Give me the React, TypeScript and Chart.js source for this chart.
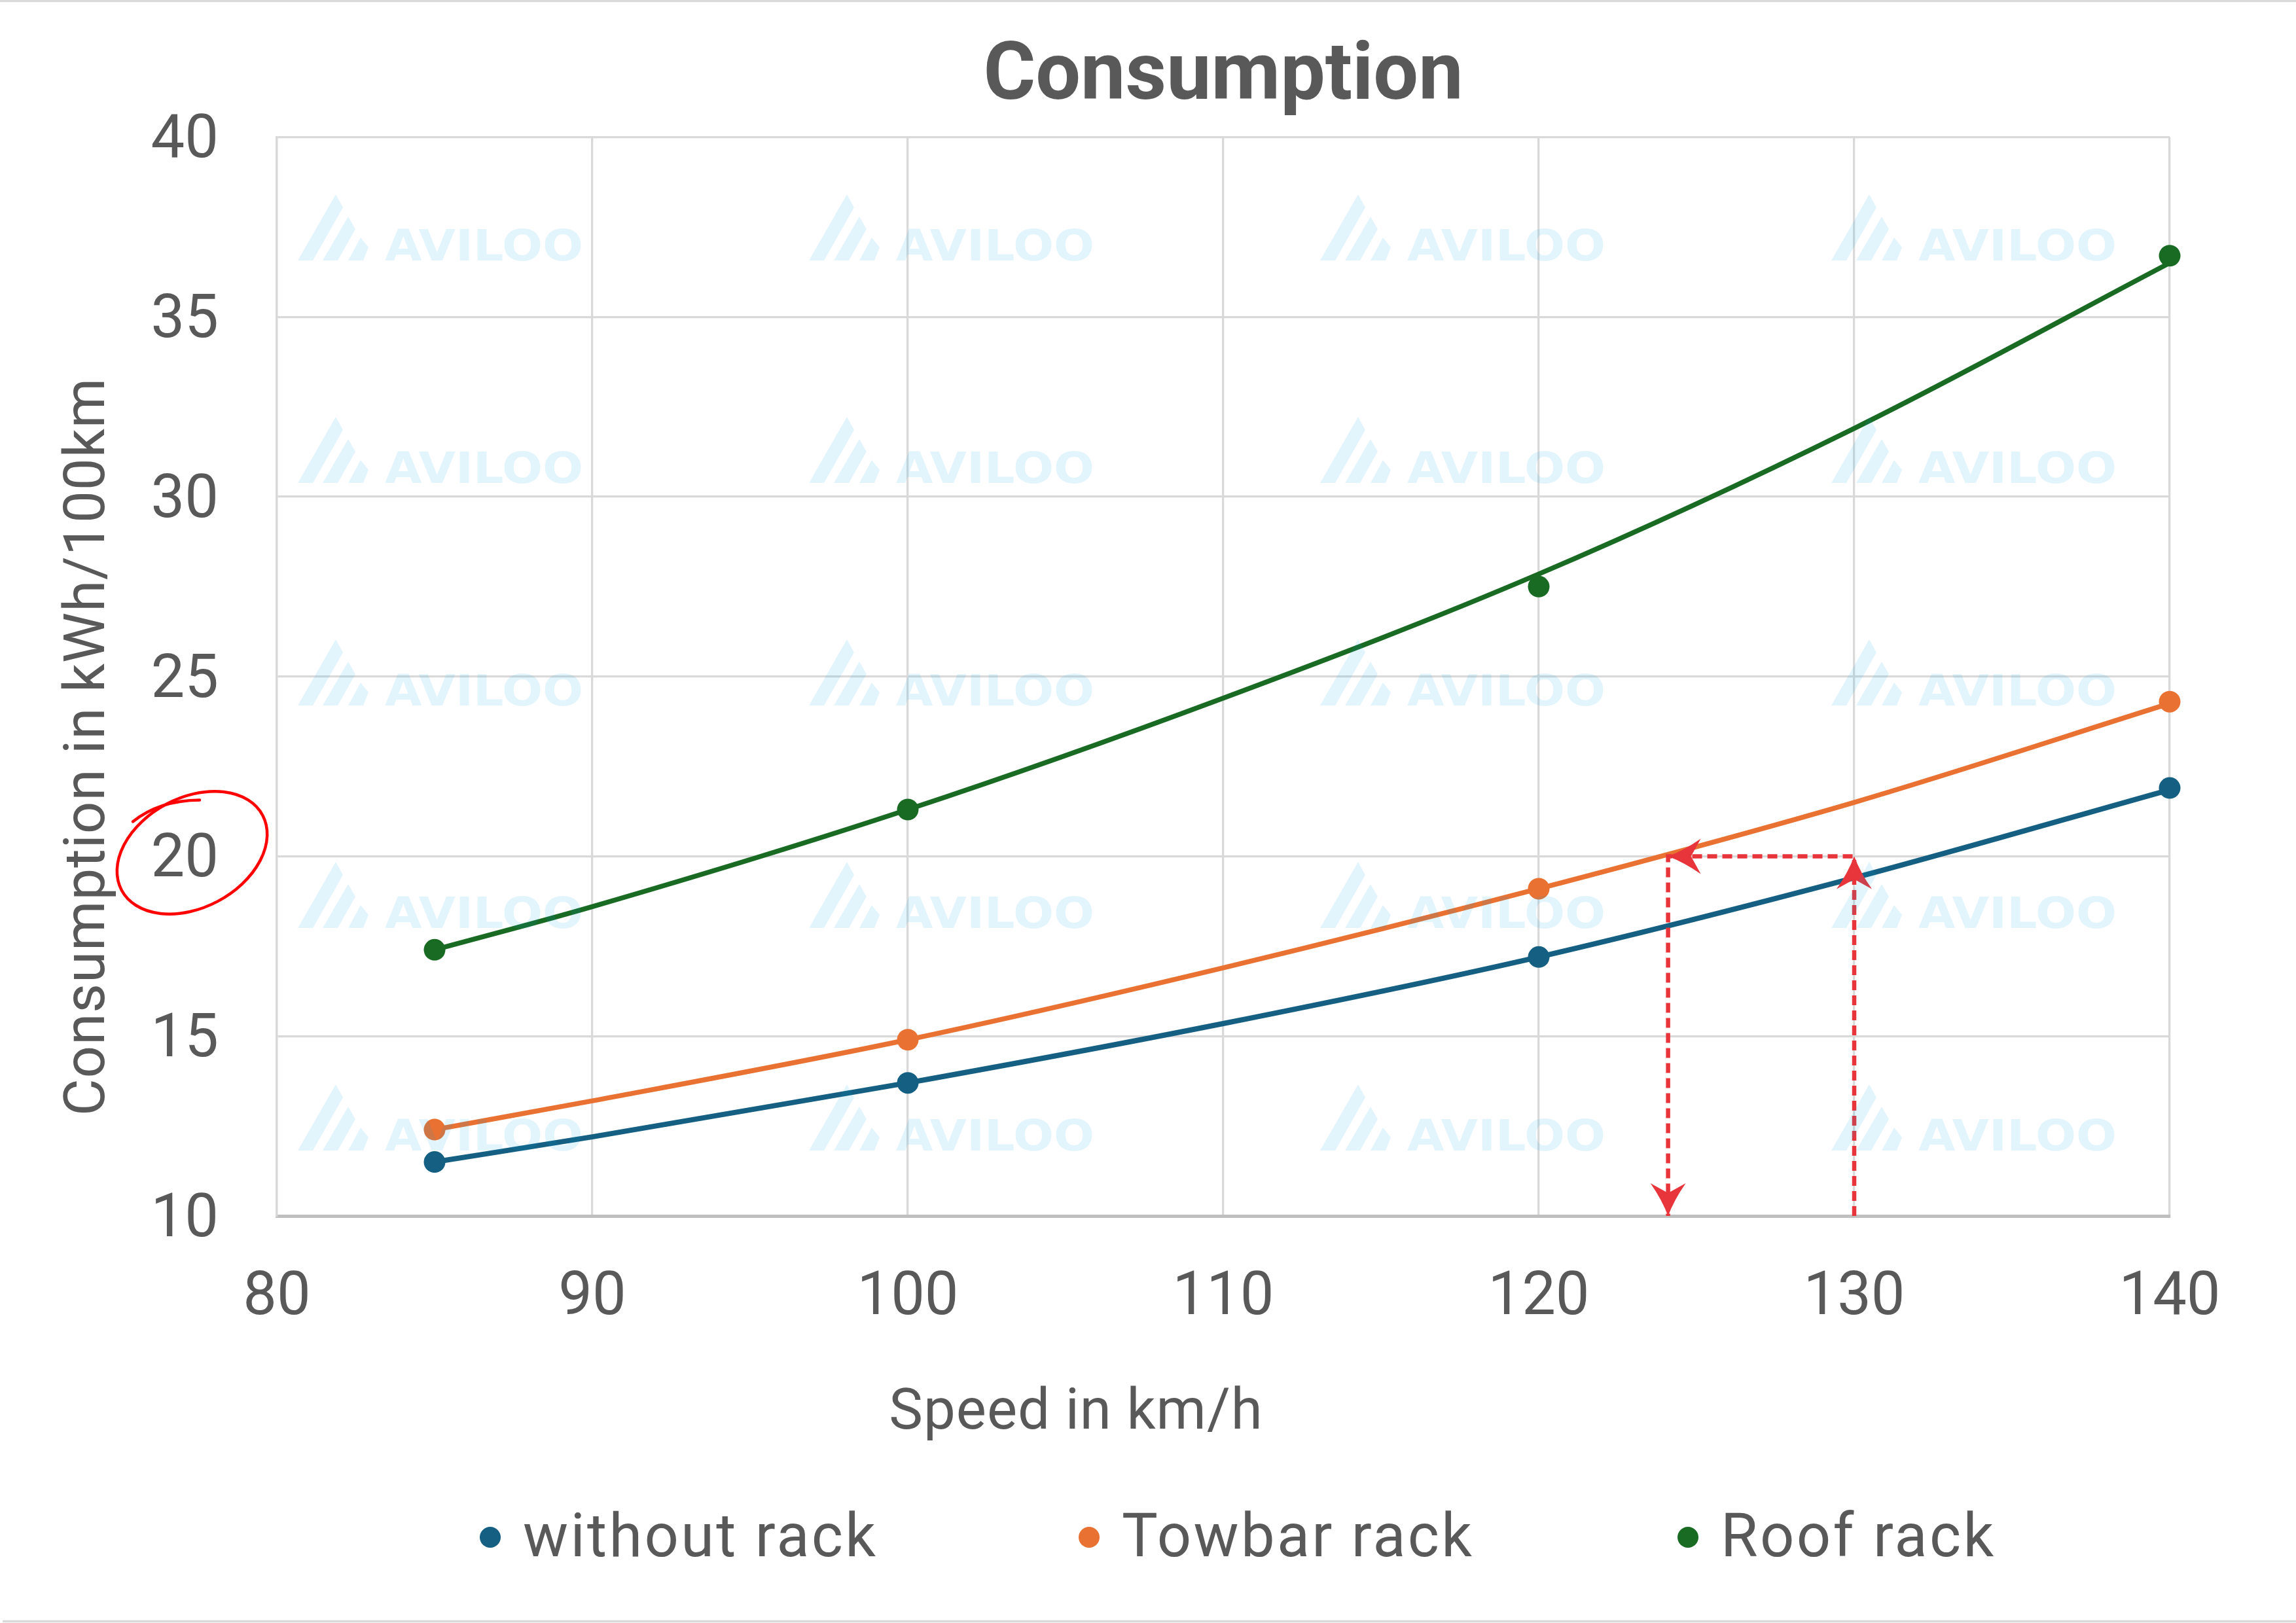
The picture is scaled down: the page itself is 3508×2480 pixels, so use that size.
import React, { useEffect, useRef } from "react";
import { Chart, registerables } from "chart.js";

Chart.register(...registerables);

// ---------- data ----------
const SPEEDS = [85, 100, 120, 140];
const WITHOUT_RACK = [11.5, 13.7, 17.2, 21.9];
const TOWBAR_RACK = [12.4, 14.9, 19.1, 24.3];
const ROOF_RACK = [17.4, 21.3, 27.5, 36.7];

// trendline curves
const TREND_SPEEDS = [85, 90, 100, 110, 120, 130, 140];
const WITHOUT_TREND = [11.5, 12.2, 13.7, 15.35, 17.2, 19.4, 21.85];
const TOWBAR_TREND = [12.4, 13.2, 14.9, 16.9, 19.1, 21.5, 24.25];
const ROOF_TREND = [17.4, 18.6, 21.3, 24.4, 27.85, 31.9, 36.5];

const SERIES_NAMES = ["without rack", "Towbar rack", "Roof rack"];
const SERIES_COLORS = ["#156082", "#E97132", "#196B24"];

const X_TICKS = [80, 90, 100, 110, 120, 130, 140];
const Y_TICKS = [10, 15, 20, 25, 30, 35, 40];

// red dashed guide: from 130 km/h up to 20 kWh, left to towbar curve, down to axis
const GUIDE_X = [130, 130, 124.1, 124.1];
const GUIDE_Y = [10, 20, 20, 10];
const CIRCLED_TICK = 20;

const TITLE = "Consumption";
const X_TITLE = "Speed in km/h";
const Y_TITLE = "Consumption in kWh/100km";
const WATERMARK = "AVILOO";

// ---------- styles ----------
const TEXT = "#595959";
const GRID = "#D9D9D9";
const AXIS = "#BFBFBF";
const RED = "#E8353B";
const FONT = "Roboto, 'Liberation Sans', sans-serif";

Chart.defaults.font.family = FONT;

const pts = (xs: number[], ys: number[]) => xs.map((x, i) => ({ x, y: ys[i] }));

const framePlugin = {
  id: "frame",
  beforeDraw(chart: any) {
    const ctx = chart.ctx;
    ctx.save();
    ctx.fillStyle = "#ffffff";
    ctx.fillRect(0, 0, chart.width, chart.height);
    ctx.strokeStyle = GRID;
    ctx.lineWidth = 3.5;
    ctx.beginPath();
    ctx.moveTo(0, 1.5);
    ctx.lineTo(chart.width, 1.5);
    ctx.moveTo(4, chart.height - 2.5);
    ctx.lineTo(chart.width, chart.height - 2.5);
    ctx.stroke();
    ctx.restore();
  },
};

const arrowPlugin = {
  id: "guideArrows",
  afterDatasetsDraw(chart: any) {
    const xs = chart.scales.x;
    const ys = chart.scales.y;
    const p = GUIDE_X.map((v, i) => ({ x: xs.getPixelForValue(v), y: ys.getPixelForValue(GUIDE_Y[i]) }));
    const ctx = chart.ctx;
    ctx.save();
    ctx.fillStyle = RED;
    for (let i = 1; i < p.length; i++) {
      const a = p[i - 1];
      const b = p[i];
      const dx = b.x - a.x;
      const dy = b.y - a.y;
      const len = Math.hypot(dx, dy) || 1;
      const ux = dx / len;
      const uy = dy / len;
      const px = -uy;
      const py = ux;
      const L = 50;
      const W = 27;
      const N = 15;
      ctx.beginPath();
      ctx.moveTo(b.x, b.y);
      ctx.quadraticCurveTo(b.x - ux * L * 0.5 + px * W * 0.35, b.y - uy * L * 0.5 + py * W * 0.35, b.x - ux * L + px * W, b.y - uy * L + py * W);
      ctx.lineTo(b.x - ux * (L - N), b.y - uy * (L - N));
      ctx.lineTo(b.x - ux * L - px * W, b.y - uy * L - py * W);
      ctx.quadraticCurveTo(b.x - ux * L * 0.5 - px * W * 0.35, b.y - uy * L * 0.5 - py * W * 0.35, b.x, b.y);
      ctx.closePath();
      ctx.fill();
    }
    ctx.restore();
  },
};

const textPlugin = {
  id: "texts",
  afterDraw(chart: any) {
    const ctx = chart.ctx;
    const ys = chart.scales.y;
    ctx.save();
    ctx.fillStyle = TEXT;
    ctx.textBaseline = "alphabetic";

    // x axis title
    ctx.font = `87px ${FONT}`;
    ctx.textAlign = "center";
    (ctx as any).letterSpacing = "1px";
    ctx.fillText(X_TITLE, 1644, 2183);

    // y axis title
    ctx.save();
    ctx.translate(159, 1141);
    ctx.rotate(-Math.PI / 2);
    ctx.fillText(Y_TITLE, 0, 0);
    ctx.restore();

    // legend
    ctx.font = `92px ${FONT}`;
    ctx.textAlign = "left";
    (ctx as any).letterSpacing = "3.3px";
    SERIES_NAMES.forEach((name, i) => {
      const cx = 749 + i * 915;
      ctx.fillStyle = SERIES_COLORS[i];
      ctx.beginPath();
      ctx.arc(cx, 2349, 16, 0, Math.PI * 2);
      ctx.fill();
      ctx.fillStyle = TEXT;
      ctx.fillText(name, cx + 50, 2378);
    });
    (ctx as any).letterSpacing = "0px";

    // hand-drawn red circle around the 20 tick label
    const cx = 293.5;
    const cy = ys.getPixelForValue(CIRCLED_TICK) - 5.5;
    ctx.strokeStyle = "#FF0000";
    ctx.lineWidth = 4.5;
    ctx.lineCap = "round";
    ctx.beginPath();
    ctx.ellipse(cx, cy, 122, 84, (-28 * Math.PI) / 180, 0, Math.PI * 2);
    ctx.stroke();
    ctx.beginPath();
    ctx.moveTo(cx + 11.5, cy - 80.5);
    ctx.quadraticCurveTo(cx - 50, cy - 80, cx - 90.5, cy - 47.5);
    ctx.stroke();
    ctx.restore();
  },
};

const watermarkPlugin = {
  id: "watermark",
  afterDraw(chart: any) {
    const ctx = chart.ctx;
    const shapes = [
      [[0, 0], [58, -101], [69, -81], [23, 0]],
      [[38, 0], [77, -67], [88, -48], [61, 0]],
      [[77, 0], [96, -35], [108, -20], [100, 0]],
    ];
    ctx.save();
    ctx.fillStyle = "rgba(0,160,230,0.115)";
    ctx.font = `bold 66px 'DejaVu Sans', ${FONT}`;
    ctx.textAlign = "left";
    ctx.textBaseline = "alphabetic";
    const w = ctx.measureText(WATERMARK).width;
    const sx = 303 / w;
    for (let c = 0; c < 4; c++) {
      for (let r = 0; r < 5; r++) {
        const L = 455 + c * 781;
        const B = 398 + r * 340;
        shapes.forEach((s) => {
          ctx.beginPath();
          s.forEach(([dx, dy], k) => (k === 0 ? ctx.moveTo(L + dx, B + dy) : ctx.lineTo(L + dx, B + dy)));
          ctx.closePath();
          ctx.fill();
        });
        ctx.save();
        ctx.translate(L + 133, B);
        ctx.scale(sx, 1);
        ctx.fillText(WATERMARK, 0, 0);
        ctx.restore();
      }
    }
    ctx.restore();
  },
};

export default function App() {
  const ref = useRef<HTMLCanvasElement>(null);
  useEffect(() => {
    document.body.style.margin = "0";
    const canvas = ref.current;
    if (!canvas) return;
    const trends = [WITHOUT_TREND, TOWBAR_TREND, ROOF_TREND];
    const marks = [WITHOUT_RACK, TOWBAR_RACK, ROOF_RACK];
    const datasets: any[] = [
      {
        label: "guide",
        data: pts(GUIDE_X, GUIDE_Y),
        borderColor: RED,
        borderWidth: 6.5,
        borderDash: [15, 8],
        pointRadius: 0,
        tension: 0,
        order: 0,
        clip: false,
      },
    ];
    SERIES_NAMES.forEach((name, i) => {
      datasets.push({
        label: name,
        data: pts(SPEEDS, marks[i]),
        showLine: false,
        pointRadius: 16.5,
        pointBackgroundColor: SERIES_COLORS[i],
        pointBorderWidth: 0,
        borderColor: SERIES_COLORS[i],
        order: 1,
        clip: false,
      });
    });
    SERIES_NAMES.forEach((name, i) => {
      datasets.push({
        label: name + " trend",
        data: pts(TREND_SPEEDS, trends[i]),
        borderColor: SERIES_COLORS[i],
        borderWidth: i === 0 ? 8 : 7.5,
        pointRadius: 0,
        cubicInterpolationMode: "monotone",
        order: 2,
        clip: false,
      });
    });

    const chart = new Chart(canvas, {
      type: "line",
      data: { datasets },
      options: {
        responsive: false,
        maintainAspectRatio: false,
        devicePixelRatio: 1,
        animation: false,
        events: [],
        layout: { padding: { left: 0, right: 193, top: 0, bottom: 0 } },
        plugins: {
          legend: { display: false },
          tooltip: { enabled: false },
          title: {
            display: true,
            text: TITLE,
            color: TEXT,
            fullSize: false,
            font: { family: FONT, size: 122, weight: "bold", lineHeight: 1.2 },
            padding: { top: 47, bottom: 16 },
          },
        },
        scales: {
          x: {
            type: "linear",
            min: X_TICKS[0],
            max: X_TICKS[X_TICKS.length - 1],
            afterBuildTicks: (s: any) => {
              s.ticks = X_TICKS.map((value) => ({ value }));
            },
            afterFit: (s: any) => {
              s.height = 622;
            },
            grid: { color: GRID, lineWidth: 3.3, drawTicks: false },
            border: { display: true, color: AXIS, width: 5 },
            ticks: { color: TEXT, font: { family: FONT, size: 92 }, padding: 72, maxRotation: 0 },
          },
          y: {
            type: "linear",
            min: Y_TICKS[0],
            max: Y_TICKS[Y_TICKS.length - 1],
            afterBuildTicks: (s: any) => {
              s.ticks = Y_TICKS.map((value) => ({ value }));
            },
            afterFit: (s: any) => {
              s.width = 423;
            },
            grid: { color: GRID, lineWidth: 3.3, drawTicks: false },
            border: { display: true, color: GRID, width: 3.3 },
            ticks: { color: TEXT, font: { family: FONT, size: 92 }, padding: 89, labelOffset: 8 },
          },
        },
      } as any,
      plugins: [framePlugin, arrowPlugin, textPlugin, watermarkPlugin],
    });
    return () => chart.destroy();
  }, []);

  return (
    <div style={{ position: "absolute", left: 0, top: 0, width: 3508, height: 2480, background: "#ffffff" }}>
      <canvas ref={ref} width={3508} height={2480} style={{ width: "3508px", height: "2480px", display: "block" }} />
    </div>
  );
}
